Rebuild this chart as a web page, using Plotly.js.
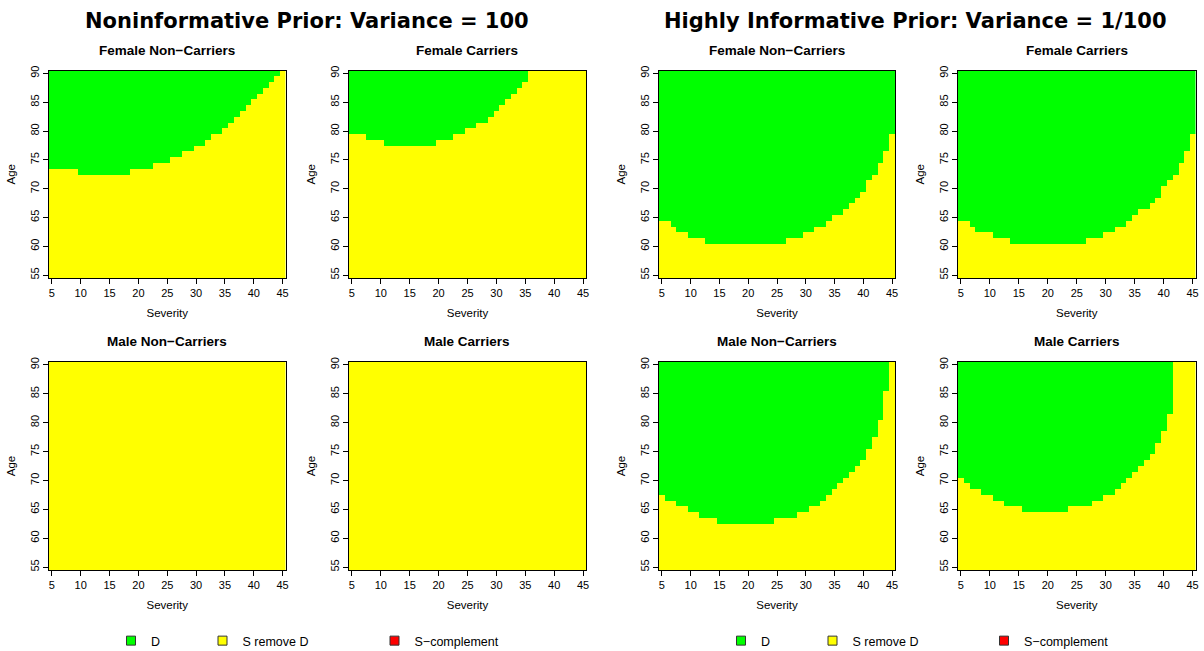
<!DOCTYPE html>
<html>
<head>
<meta charset="utf-8">
<script src="https://cdn.plot.ly/plotly-3.0.1.min.js"></script>
<style>
  html, body { margin: 0; padding: 0; background: #fff; }
  #chart { width: 1204px; height: 651px; }
</style>
</head>
<body>
<div id="chart"></div>
<script>
// ---------------- DATA ----------------
const severity = [5,6,7,8,9,10,11,12,13,14,15,16,17,18,19,20,21,22,23,24,25,26,27,28,29,30,31,32,33,34,35,36,37,38,39,40,41,42,43,44,45];
const ages = [55,56,57,58,59,60,61,62,63,64,65,66,67,68,69,70,71,72,73,74,75,76,77,78,79,80,81,82,83,84,85,86,87,88,89,90];
const severityTicks = [5,10,15,20,25,30,35,40,45];
const ageTicks = [55,60,65,70,75,80,85,90];

// Lowest age classified as "D" (green) for each severity; 91 = no green cell in that column.
// Noninformative prior (variance = 100)
const nonInfFemaleNonCarriers = [74,74,74,74,74,73,73,73,73,73,73,73,73,73,74,74,74,74,75,75,75,76,76,77,77,78,78,79,80,80,81,82,83,84,85,86,87,88,89,90,91];
const nonInfFemaleCarriers    = [80,80,80,79,79,79,78,78,78,78,78,78,78,78,78,79,79,79,80,80,81,81,82,82,83,84,85,86,87,88,89,91,91,91,91,91,91,91,91,91,91];
const nonInfMaleNonCarriers   = [91,91,91,91,91,91,91,91,91,91,91,91,91,91,91,91,91,91,91,91,91,91,91,91,91,91,91,91,91,91,91,91,91,91,91,91,91,91,91,91,91];
const nonInfMaleCarriers      = [91,91,91,91,91,91,91,91,91,91,91,91,91,91,91,91,91,91,91,91,91,91,91,91,91,91,91,91,91,91,91,91,91,91,91,91,91,91,91,91,91];
// Highly informative prior (variance = 1/100)
const infFemaleNonCarriers = [65,65,64,63,63,62,62,62,61,61,61,61,61,61,61,61,61,61,61,61,61,61,62,62,62,63,63,64,64,65,66,66,67,68,69,70,72,73,75,77,80];
const infFemaleCarriers    = [65,65,64,63,63,63,62,62,62,61,61,61,61,61,61,61,61,61,61,61,61,61,62,62,62,63,63,64,64,65,66,67,67,68,69,71,72,73,75,77,80];
const infMaleNonCarriers   = [68,67,67,66,66,65,65,64,64,64,63,63,63,63,63,63,63,63,63,63,64,64,64,64,65,65,66,66,67,68,69,70,71,72,73,74,76,78,81,86,91];
const infMaleCarriers      = [71,70,69,69,68,68,67,67,66,66,66,65,65,65,65,65,65,65,65,66,66,66,66,67,67,68,68,69,70,71,72,73,74,75,77,79,82,91,91,91,91];

const panelTitles = ["Female Non\u2212Carriers","Female Carriers","Female Non\u2212Carriers","Female Carriers",
                     "Male Non\u2212Carriers","Male Carriers","Male Non\u2212Carriers","Male Carriers"];
const mainTitles = ["Noninformative Prior: Variance = 100","Highly Informative Prior: Variance = 1/100"];
const classNames = ["D","S remove D","S\u2212complement"];
const classColors = ["#00FF00","#FFFF00","#FF0000"];
// codes: 1 = D, 2 = S remove D, 0 = S-complement

// ---------------- LAYOUT ----------------
const W = 1204, H = 651;
const panelSeries = [nonInfFemaleNonCarriers, nonInfFemaleCarriers, infFemaleNonCarriers, infFemaleCarriers,
                     nonInfMaleNonCarriers, nonInfMaleCarriers, infMaleNonCarriers, infMaleCarriers];
const colsPx = [[49,285.5],[349,586],[659,895],[958,1195.5]];
const rowsPx = [[70.5,278],[362,570]];

const tickFont = {family: "Liberation Sans, Arial, sans-serif", size: 11, color: "#000"};
const colorscale = [[0,"#FF0000"],[0.3333,"#FF0000"],[0.3334,"#00FF00"],[0.6666,"#00FF00"],[0.6667,"#FFFF00"],[1,"#FFFF00"]];

const traces = [];
const layout = {
  width: W, height: H,
  margin: {l:0, r:0, t:0, b:0, autoexpand: false},
  paper_bgcolor: "#fff", plot_bgcolor: "#fff",
  showlegend: true,
  annotations: [],
  font: {family: "Liberation Sans, Arial, sans-serif", color: "#000"}
};

for (let p = 0; p < 8; p++) {
  const r = Math.floor(p / 4), c = p % 4;
  const thr = panelSeries[p];
  const z = ages.map(a => severity.map((s, j) => (a >= thr[j] ? 1 : 2)));
  const sfx = p === 0 ? "" : String(p + 1);
  traces.push({
    type: "heatmap", x: severity, y: ages, z: z,
    xaxis: "x" + sfx, yaxis: "y" + sfx,
    colorscale: colorscale, zmin: 0, zmax: 2, showscale: false, hoverinfo: "skip"
  });
  const xd = [colsPx[c][0] / W, colsPx[c][1] / W];
  const yd = [1 - rowsPx[r][1] / H, 1 - rowsPx[r][0] / H];
  layout["xaxis" + sfx] = {
    domain: xd, anchor: "y" + sfx, range: [4.5, 45.5], tickvals: severityTicks,
    ticks: "outside", ticklen: 5, tickwidth: 1, tickcolor: "#000",
    showline: true, mirror: true, linecolor: "#000", linewidth: 1,
    showgrid: false, zeroline: false, tickfont: tickFont, fixedrange: true,
    title: {text: "Severity", font: {family: tickFont.family, size: 11.5, color: "#000"}, standoff: 10}
  };
  layout["yaxis" + sfx] = {
    domain: yd, anchor: "x" + sfx, range: [54.5, 90.5], tickvals: ageTicks,
    ticks: "outside", ticklen: 5, tickwidth: 1, tickcolor: "#000", tickangle: -90,
    showline: true, mirror: true, linecolor: "#000", linewidth: 1,
    showgrid: false, zeroline: false, tickfont: tickFont, fixedrange: true,
    title: {text: "Age", font: {family: tickFont.family, size: 11.5, color: "#000"}, standoff: 10}
  };
  layout.annotations.push({
    xref: "paper", yref: "paper",
    x: (xd[0] + xd[1]) / 2, y: 1 - (rowsPx[r][0] - 20) / H,
    xanchor: "center", yanchor: "middle", showarrow: false,
    text: panelTitles[p],
    font: {family: "Liberation Sans, Arial, sans-serif", size: 13.5, weight: "bold", color: "#000"}
  });
}

// main titles
const mainX = [307, 915];
mainTitles.forEach((t, i) => {
  layout.annotations.push({
    xref: "paper", yref: "paper", x: mainX[i] / W, y: 1 - 21 / H,
    xanchor: "center", yanchor: "middle", showarrow: false, text: t,
    font: {family: "DejaVu Sans, sans-serif", size: 21, weight: "bold", color: "#000"}
  });
});

// legends: one per entry, two groups
const legendCenters = [[131, 222.5, 394.5], [741, 832.5, 1004]];
let lg = 1;
legendCenters.forEach((grp) => {
  grp.forEach((cx, k) => {
    const key = lg === 1 ? "legend" : "legend" + lg;
    traces.push({
      type: "scatter", mode: "markers", x: [null], y: [null],
      name: classNames[k], legend: key, hoverinfo: "skip",
      marker: {symbol: "square", size: 9, color: classColors[k], line: {color: "#333", width: 1}}
    });
    layout[key] = {
      x: (cx - 20) / W, xanchor: "left", y: 1 - 641 / H, yanchor: "middle",
      orientation: "h", bgcolor: "rgba(0,0,0,0)", borderwidth: 0,
      font: {family: "Liberation Sans, Arial, sans-serif", size: 12.5, color: "#000"}
    };
    lg++;
  });
});

Plotly.newPlot("chart", traces, layout, {staticPlot: true, displayModeBar: false});
</script>
</body>
</html>
